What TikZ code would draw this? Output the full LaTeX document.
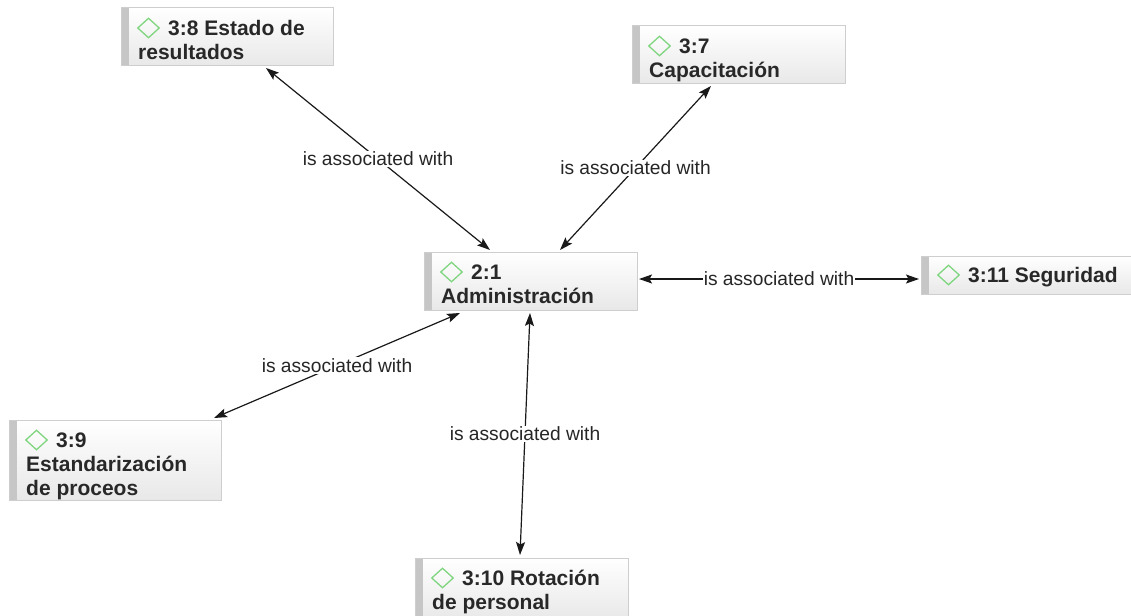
\documentclass[tikz,border=0pt]{standalone}
\usepackage{fontspec}
\setmainfont{Liberation Sans}
\usetikzlibrary{arrows.meta,shapes.geometric}
\definecolor{boxline}{RGB}{206,206,206}
\definecolor{stripe}{RGB}{198,198,198}
\definecolor{boxbottom}{RGB}{232,232,232}
\definecolor{codegreen}{RGB}{128,214,128}
\definecolor{textdark}{RGB}{40,40,40}

% code box: name, x, y, width, height, first-baseline offset, text
\newcommand\codebox[7]{%
  \node[codebox, minimum width=#4pt, minimum height=#5pt, anchor=north west] (#1) at (#2,#3) {};
  \fill[stripe] ([xshift=0.5pt,yshift=-0.5pt]#1.north west) rectangle ([xshift=8pt,yshift=0.5pt]#1.south west);
  \node[codemark] (#1-mark) at ([xshift=27.5pt,yshift={-(#6pt-7pt)}]#1.north west) {};
  \node[codetext] (#1-text) at ([xshift=17pt,yshift={-(#6pt-18pt)}]#1.north west) {#7};
}

\begin{document}
\begin{tikzpicture}[x=1pt,y=-1pt,
  codebox/.style={draw=boxline, line width=1pt, top color=white, bottom color=boxbottom,
    inner sep=0pt, outer sep=0pt, rectangle},
  codemark/.style={diamond, draw=codegreen, line width=1.3pt, inner sep=0pt,
    minimum width=22pt, minimum height=20pt},
  codetext/.style={anchor=north west, inner sep=0pt, align=left, text=textdark,
    font=\fontsize{21}{24}\selectfont\bfseries},
  conn/.style={line width=1.2pt, black!90,
    {Stealth[length=13pt,width=9pt,inset=2.5pt]}-{Stealth[length=13pt,width=9pt,inset=2.5pt]}},
  assoc/.style={fill=white, inner sep=1pt, text=black!85, font=\fontsize{19.2}{21}\selectfont, pos=0.5}
]
\useasboundingbox (0,0) rectangle (1131,615);

\codebox{n38}{121}{8}{212}{58}{27}{\rule{0pt}{18pt}\hspace{30pt}3:8 Estado de\\resultados}
\codebox{n37}{632}{26}{213}{58}{27}{\rule{0pt}{18pt}\hspace{30pt}3:7\\Capacitación}
\codebox{n21}{424}{252}{213}{58}{27}{\rule{0pt}{18pt}\hspace{30pt}2:1\\Administración}
\codebox{n311}{921}{256}{210}{38}{26}{\rule{0pt}{18pt}\hspace{30pt}3:11 Seguridad}
\codebox{n39}{9}{420}{212}{80}{27}{\rule{0pt}{18pt}\hspace{30pt}3:9\\Estandarización\\de proceos}
\codebox{n310}{415}{558}{213}{62}{27}{\rule{0pt}{18pt}\hspace{30pt}3:10 Rotación\\de personal}

\draw[conn] ([xshift=145pt,yshift=-2pt]n38.south west)
  -- node[assoc] (l1) {is associated with} ([xshift=66pt,yshift=2pt]n21.north west);
\draw[conn] ([xshift=79pt,yshift=-2pt]n37.south west)
  -- node[assoc] (l2) {is associated with} ([xshift=136pt,yshift=2pt]n21.north west);
\draw[conn] ([xshift=2pt,yshift=2pt]n21.east)
  -- node[assoc] (l3) {is associated with} ([xshift=-2pt,yshift=2pt]n21.east -| n311.west);
\draw[conn] ([xshift=36pt,yshift=-3pt]n21.south west)
  -- node[assoc] (l4) {is associated with} ([xshift=205pt,yshift=2pt]n39.north west);
\draw[conn] ([xshift=106pt,yshift=-3pt]n21.south west)
  -- node[assoc] (l5) {is associated with} ([xshift=105pt,yshift=3pt]n310.north west);
\end{tikzpicture}
\end{document}
